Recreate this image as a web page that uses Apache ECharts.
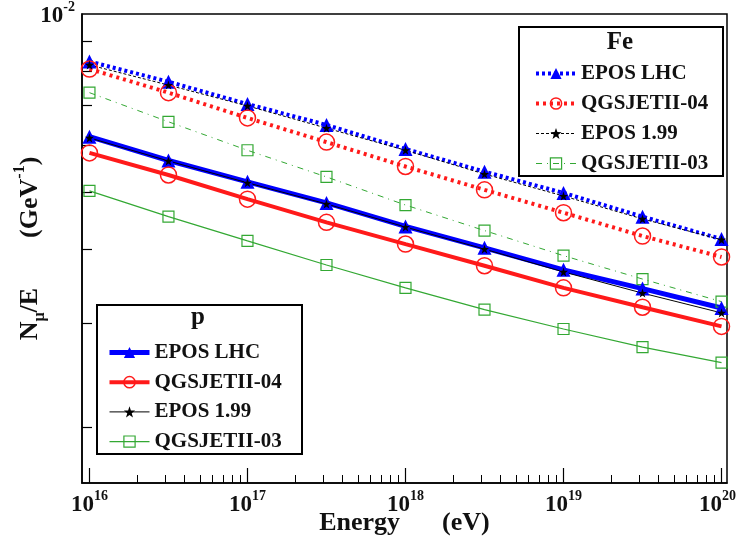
<!DOCTYPE html>
<html>
<head>
<meta charset="utf-8">
<script src="https://cdn.jsdelivr.net/npm/echarts@6/dist/echarts.min.js"></script>
<style>html,body{margin:0;padding:0;background:#fff;}#c{width:738px;height:545px;}</style>
</head>
<body>
<div id="c"></div>
<script>
// ---- data ----
const energies = [1e16, 3.162e16, 1e17, 3.162e17, 1e18, 3.162e18, 1e19, 3.162e19, 1e20];

const feEposLhc  = [8.31e-3, 7.68e-3, 7.04e-3, 6.49e-3, 5.91e-3, 5.41e-3, 4.98e-3, 4.54e-3, 4.16e-3];
const feQgsjet04 = [8.07e-3, 7.36e-3, 6.67e-3, 6.07e-3, 5.52e-3, 5.04e-3, 4.61e-3, 4.21e-3, 3.88e-3];
const feEpos199  = [8.20e-3, 7.58e-3, 6.99e-3, 6.41e-3, 5.88e-3, 5.36e-3, 4.92e-3, 4.50e-3, 4.15e-3];
const feQgsjet03 = [7.36e-3, 6.57e-3, 5.88e-3, 5.30e-3, 4.75e-3, 4.30e-3, 3.90e-3, 3.56e-3, 3.26e-3];

const pEposLhc   = [6.20e-3, 5.65e-3, 5.20e-3, 4.79e-3, 4.37e-3, 4.02e-3, 3.69e-3, 3.43e-3, 3.18e-3];
const pQgsjet04  = [5.82e-3, 5.34e-3, 4.86e-3, 4.44e-3, 4.08e-3, 3.75e-3, 3.44e-3, 3.19e-3, 2.96e-3];
const pEpos199   = [6.17e-3, 5.64e-3, 5.18e-3, 4.77e-3, 4.36e-3, 4.00e-3, 3.66e-3, 3.37e-3, 3.12e-3];
const pQgsjet03  = [5.02e-3, 4.54e-3, 4.13e-3, 3.76e-3, 3.44e-3, 3.16e-3, 2.93e-3, 2.73e-3, 2.57e-3];

const xMajorTicks = [1e16, 1e17, 1e18, 1e19, 1e20];
const xMinorTicks = [2e16,3e16,4e16,5e16,6e16,7e16,8e16,9e16,
                     2e17,3e17,4e17,5e17,6e17,7e17,8e17,9e17,
                     2e18,3e18,4e18,5e18,6e18,7e18,8e18,9e18,
                     2e19,3e19,4e19,5e19,6e19,7e19,8e19,9e19];
const yMinorTicks = [9e-3, 8e-3, 7e-3, 6e-3, 5e-3, 4e-3, 3e-3, 2e-3];
const yLabelTicks = [1e-2];

const modelNames = ['EPOS LHC', 'QGSJETII-04', 'EPOS 1.99', 'QGSJETII-03'];

// ---- styling ----
const FONT = 'Liberation Serif';
const BLUE = '#0000ff', RED = '#ff1a1a', BLACK = '#000000', GREEN = '#33a833';
const STAR = 'path://M0,-10L2.35,-3.24L9.51,-3.09L3.8,1.24L5.88,8.09L0,4L-5.88,8.09L-3.8,1.24L-9.51,-3.09L-2.35,-3.24Z';

function pairs(vals) { return energies.map((e, i) => [e, vals[i]]); }

function mk(name, vals, color, width, type, symbol, size, filled, bw) {
  return {
    name: name, type: 'line', data: pairs(vals),
    symbol: symbol, symbolSize: size, showSymbol: true,
    lineStyle: { color: color, width: width, type: type, cap: 'butt' },
    itemStyle: filled ? { color: color, borderWidth: 0 }
                      : { color: 'rgba(255,255,255,0)', borderColor: color, borderWidth: bw },
    emphasis: { disabled: true },
    z: 2
  };
}

const series = [
  mk('Fe ' + modelNames[0], feEposLhc, BLUE, 4, [3, 3], 'triangle', 14, true, 0),
  mk('Fe ' + modelNames[1], feQgsjet04, RED, 4, [3, 4], 'circle', 16, false, 1.5),
  mk('Fe ' + modelNames[3], feQgsjet03, GREEN, 1, [6, 5, 1, 5], 'rect', 11, false, 1.2),
  mk('Fe ' + modelNames[2], feEpos199, BLACK, 1, [3, 2], STAR, 9, true, 0),
  mk('p ' + modelNames[0], pEposLhc, BLUE, 5, 'solid', 'triangle', 14, true, 0),
  mk('p ' + modelNames[1], pQgsjet04, RED, 4, 'solid', 'circle', 16, false, 1.5),
  mk('p ' + modelNames[3], pQgsjet03, GREEN, 1.2, 'solid', 'rect', 11, false, 1.2),
  mk('p ' + modelNames[2], pEpos199, BLACK, 1, 'solid', STAR, 9, true, 0)
];

const supRich = {
  b: { fontFamily: FONT, fontWeight: 'bold', fontSize: 23, color: '#111', verticalAlign: 'bottom', lineHeight: 28 },
  s: { fontFamily: FONT, fontWeight: 'bold', fontSize: 14, color: '#111', verticalAlign: 'top', lineHeight: 28 },
  e: { fontFamily: FONT, fontWeight: 'bold', fontSize: 14, color: '#111', verticalAlign: 'top', lineHeight: 28, padding: [0, 8, 0, 0] }
};
function powLabel(v) {
  const ex = Math.round(Math.log10(v));
  return '{b|10}{' + (ex === 20 ? 'e' : 's') + '|' + ex + '}';
}

function legendCfg(prefix, left, top, gap) {
  return {
    orient: 'vertical', left: left, top: top, padding: 0,
    itemWidth: 40, itemHeight: 14, itemGap: gap,
    selectedMode: false,
    data: [0, 1, 2, 3].map(i => prefix + ' ' + modelNames[i]),
    formatter: n => n.replace(/^(Fe|p) /, ''),
    textStyle: { fontFamily: FONT, fontWeight: 'bold', fontSize: 21, color: '#111', lineHeight: 20 },
    lineStyle: { width: 'inherit', type: 'inherit' },
    itemStyle: { borderWidth: 'inherit' },
    z: 5
  };
}

const option = {
  animation: false,
  backgroundColor: '#fff',
  grid: { left: 82, top: 14, right: 11, bottom: 62, outerBoundsMode: 'none', containLabel: false,
          show: true, borderColor: '#000', borderWidth: 1.5, backgroundColor: 'transparent' },
  xAxis: [{
    type: 'log', min: 8.97e15, max: 1.083e20,
    name: '{a|Energy}{g|}{a|(eV)}', nameLocation: 'middle', nameGap: 25, nameMoveOverlap: false,
    nameTextStyle: { rich: {
      a: { fontFamily: FONT, fontWeight: 'bold', fontSize: 26, color: '#111', lineHeight: 30 },
      g: { width: 42 } } },
    axisLine: { show: true, lineStyle: { color: '#000', width: 1.5 } },
    axisTick: { show: true, inside: true, length: 15, customValues: xMajorTicks, lineStyle: { color: '#000', width: 1.2 } },
    axisLabel: { show: true, margin: 6, customValues: xMajorTicks, formatter: powLabel, rich: supRich },
    splitLine: { show: false }, minorTick: { show: false }
  }, {
    type: 'log', min: 8.97e15, max: 1.083e20, position: 'bottom',
    axisLine: { show: false },
    axisTick: { show: true, inside: true, length: 8, customValues: xMinorTicks, lineStyle: { color: '#000', width: 1 } },
    axisLabel: { show: false }, splitLine: { show: false }
  }],
  yAxis: {
    type: 'log', min: 1.608e-3, max: 1e-2,
    name: '{a|N}{sub|μ}{a|/E}{g|}{a|(GeV}{sup|-1}{a|)}', nameLocation: 'middle', nameGap: 34, nameMoveOverlap: false,
    nameTextStyle: { rich: {
      a: { fontFamily: FONT, fontWeight: 'bold', fontSize: 26, color: '#111', lineHeight: 36, verticalAlign: 'middle' },
      sub: { fontFamily: FONT, fontWeight: 'bold', fontSize: 16, color: '#111', lineHeight: 36, verticalAlign: 'bottom' },
      sup: { fontFamily: FONT, fontWeight: 'bold', fontSize: 16, color: '#111', lineHeight: 36, verticalAlign: 'top' },
      g: { width: 50 } } },
    axisLine: { show: true, lineStyle: { color: '#000', width: 1.5 } },
    axisTick: { show: true, inside: true, length: 10, customValues: yMinorTicks, lineStyle: { color: '#000', width: 1.2 } },
    axisLabel: { show: true, margin: 7, customValues: yLabelTicks, formatter: powLabel, rich: supRich },
    splitLine: { show: false }, minorTick: { show: false }
  },
  legend: [legendCfg('Fe', 534, 63, 9), legendCfg('p', 107, 342, 8.7)],
  graphic: [
    { type: 'rect', z: 3, shape: { x: 519, y: 27, width: 204, height: 149 }, style: { fill: '#fff', stroke: '#000', lineWidth: 2 } },
    { type: 'rect', z: 3, shape: { x: 97, y: 305, width: 205, height: 149 }, style: { fill: '#fff', stroke: '#000', lineWidth: 2 } },
    { type: 'text', z: 6, x: 620, y: 43, style: { text: 'Fe', fontFamily: FONT, fontWeight: 'bold', fontSize: 25, fill: '#111', align: 'center', verticalAlign: 'middle' } },
    { type: 'text', z: 6, x: 198, y: 318, style: { text: 'p', fontFamily: FONT, fontWeight: 'bold', fontSize: 25, fill: '#111', align: 'center', verticalAlign: 'middle' } }
  ],
  series: series
};

const chart = echarts.init(document.getElementById('c'), null, { renderer: 'canvas' });
chart.setOption(option);
</script>
</body>
</html>
